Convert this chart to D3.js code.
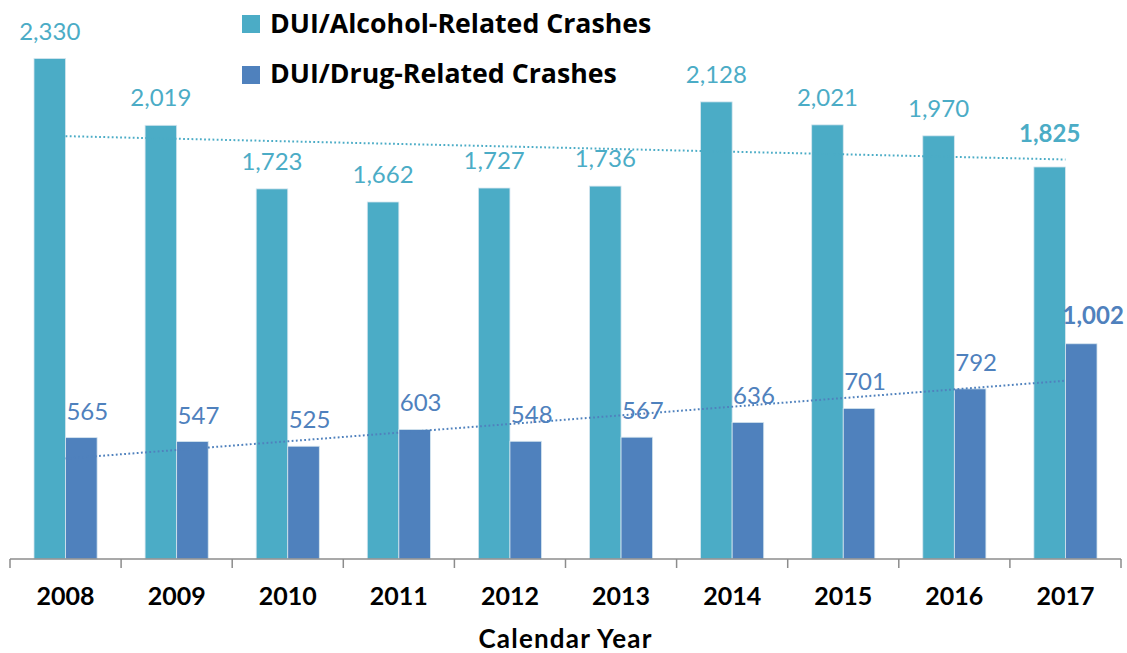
<!DOCTYPE html>
<html>
<head>
<meta charset="utf-8">
<script src="https://cdn.jsdelivr.net/npm/d3@7"></script>
<style>
  body { margin: 0; background: #fff; }
  text { font-family: Lato, "Open Sans", sans-serif; }
</style>
</head>
<body>
<svg id="chart" width="1127" height="653"></svg>
<script>
var years = ["2008", "2009", "2010", "2011", "2012", "2013", "2014", "2015", "2016", "2017"];
var alcoholCrashes = [2330, 2019, 1723, 1662, 1727, 1736, 2128, 2021, 1970, 1825];
var drugCrashes = [565, 547, 525, 603, 548, 567, 636, 701, 792, 1002];
var seriesNames = ["DUI/Alcohol-Related Crashes", "DUI/Drug-Related Crashes"];
var seriesColors = ["#4BACC6", "#4F81BD"];

var svg = d3.select("#chart");
var baseline = 559;

var x0 = d3.scaleBand().domain(years).range([10, 1121]).padding(0);
var x1 = d3.scaleBand().domain([0, 1]).range([0, x0.bandwidth()]).paddingInner(0).paddingOuter(0.76);
var y = d3.scaleLinear().domain([0, 2330]).range([baseline, 58.5]);

var series = [alcoholCrashes, drugCrashes];

// ================ bars ================
series.forEach(function (vals, s) {
  svg.append("g")
    .selectAll("rect")
    .data(vals)
    .enter()
    .append("rect")
    .attr("x", (d, i) => x0(years[i]) + x1(s))
    .attr("y", (d) => y(d))
    .attr("width", x1.bandwidth())
    .attr("height", (d) => baseline - y(d))
    .style("fill", seriesColors[s])
    .style("stroke", "#d6e6ef")
    .style("stroke-width", 0.8);
});

// ================ linear trend lines ================
function trend(vals) {
  var n = vals.length;
  var xm = (n - 1) / 2;
  var ym = d3.mean(vals);
  var num = d3.sum(vals, (v, i) => (i - xm) * (v - ym));
  var den = d3.sum(vals, (v, i) => (i - xm) * (i - xm));
  var slope = num / den;
  return [0, n - 1].map((i) => [x0(years[i]) + x0.bandwidth() / 2, y(ym + slope * (i - xm))]);
}

series.forEach(function (vals, s) {
  svg.append("path")
    .attr("d", d3.line()(trend(vals)))
    .style("fill", "none")
    .style("stroke", seriesColors[s])
    .style("stroke-width", 2)
    .style("stroke-dasharray", "1.8,2.4");
});

// ================ value labels ================
var last = years.length - 1;
svg.append("g")
  .selectAll("text")
  .data(alcoholCrashes)
  .enter()
  .append("text")
  .text((d) => d3.format(",")(d))
  .attr("x", (d, i) => x0(years[i]) + x1(0) + x1.bandwidth() / 2)
  .attr("y", (d, i) => y(d) - (i == last ? 25 : 19))
  .style("text-anchor", "middle")
  .style("font-size", "24px")
  .style("font-weight", (d, i) => (i == last ? "bold" : "normal"))
  .style("fill", seriesColors[0]);

svg.append("g")
  .selectAll("text")
  .data(drugCrashes)
  .enter()
  .append("text")
  .text((d) => d3.format(",")(d))
  .attr("x", (d, i) => x0(years[i]) + x1(1) + x1.bandwidth() / 2 + (i == last ? 12 : 6))
  .attr("y", (d, i) => y(d) - (i == last ? 20 : 18))
  .style("text-anchor", "middle")
  .style("font-size", "24px")
  .style("font-weight", (d, i) => (i == last ? "bold" : "normal"))
  .style("fill", seriesColors[1]);

// ================ x axis ================
var xAxis = svg.append("g").attr("transform", "translate(0," + baseline + ")");
xAxis.append("line")
  .attr("x1", x0.range()[0])
  .attr("x2", x0.range()[1])
  .style("stroke", "#8c8c8c")
  .style("stroke-width", 1.5);
xAxis.selectAll(".tick")
  .data(years.concat(["end"]))
  .enter()
  .append("line")
  .attr("x1", (d, i) => x0.range()[0] + i * x0.step())
  .attr("x2", (d, i) => x0.range()[0] + i * x0.step())
  .attr("y1", 0)
  .attr("y2", 9)
  .style("stroke", "#8c8c8c")
  .style("stroke-width", 1.5);
xAxis.selectAll(".label")
  .data(years)
  .enter()
  .append("text")
  .text((d) => d)
  .attr("x", (d) => x0(d) + x0.bandwidth() / 2)
  .attr("y", 46)
  .style("text-anchor", "middle")
  .style("font-size", "25px")
  .style("font-weight", "bold")
  .style("fill", "#000");

svg.append("text")
  .text("Calendar Year")
  .attr("x", (x0.range()[0] + x0.range()[1]) / 2)
  .attr("y", 648)
  .style("text-anchor", "middle")
  .style("font-size", "26px")
  .style("letter-spacing", "1.2px")
  .style("font-weight", "bold")
  .style("fill", "#000");

// ================ legend ================
var legend = svg.append("g").attr("transform", "translate(242, 15)");
legend.selectAll("rect")
  .data(seriesNames)
  .enter()
  .append("rect")
  .attr("x", 0)
  .attr("y", (d, i) => i * 51)
  .attr("width", 18)
  .attr("height", 18)
  .style("fill", (d, i) => seriesColors[i]);
legend.selectAll("text")
  .data(seriesNames)
  .enter()
  .append("text")
  .text((d) => d)
  .attr("x", 28)
  .attr("y", (d, i) => 18 + i * 50)
  .style("font-family", "'Open Sans', sans-serif")
  .style("font-size", "26.7px")
  .style("font-weight", "bold")
  .style("fill", "#000");
</script>
</body>
</html>
